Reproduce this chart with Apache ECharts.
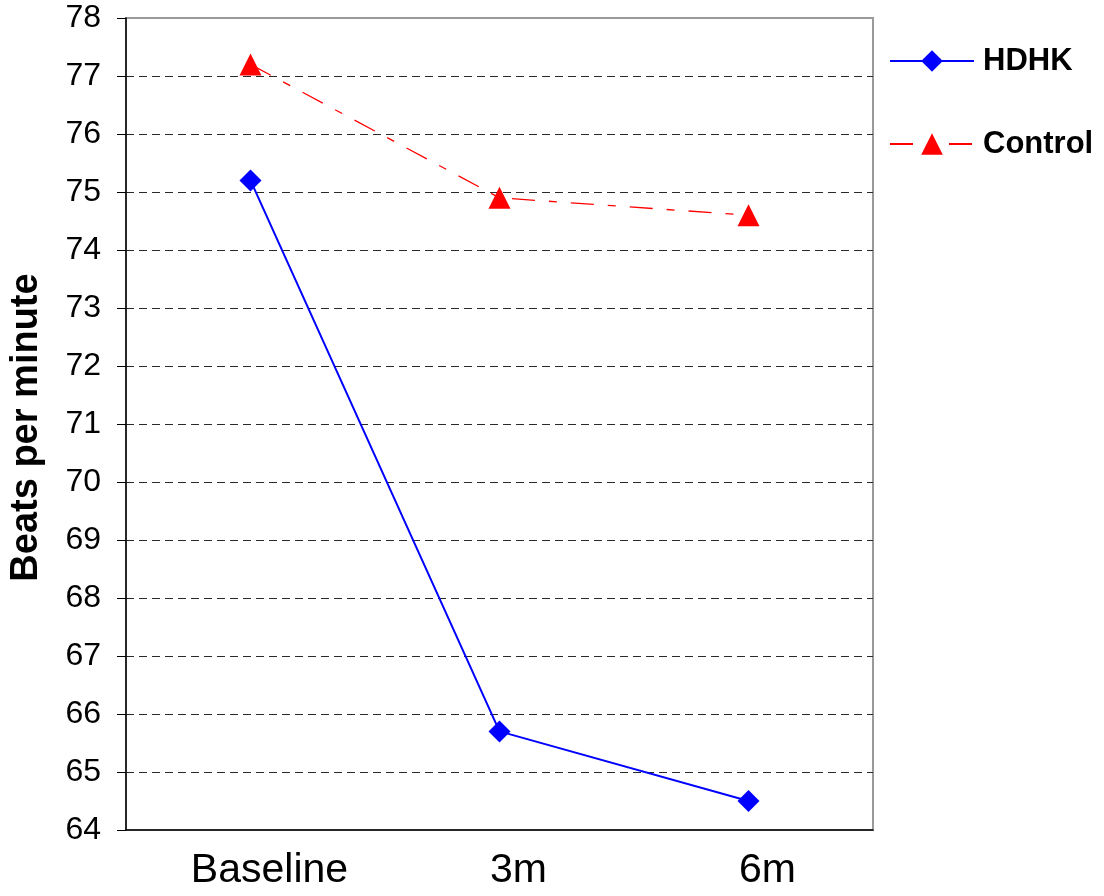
<!DOCTYPE html>
<html>
<head>
<meta charset="utf-8">
<script src="https://cdn.jsdelivr.net/npm/echarts@6/dist/echarts.min.js"></script>
<style>
  html, body { margin: 0; padding: 0; background: #fff; }
  #chart { width: 1104px; height: 896px; }
</style>
</head>
<body>
<div id="chart"></div>
<script>
// Heart rate over follow-up (beats per minute)
const categories = ['Baseline', '3m', '6m'];
const hdhk = [75.2, 65.7, 64.5];
const control = [77.2, 74.9, 74.6];
const yMin = 64;
const yMax = 78;
const yStep = 1;

const FONT = '"Liberation Sans", Arial, sans-serif';

const chart = echarts.init(document.getElementById('chart'), null, { renderer: 'canvas' });

chart.setOption({
  animation: false,
  backgroundColor: '#ffffff',
  grid: {
    left: 126,
    right: 231,
    top: 18,
    bottom: 66,
    show: true,
    borderColor: '#9a9a9a',
    borderWidth: 2,
    backgroundColor: 'transparent'
  },
  legend: {
    orient: 'vertical',
    left: 889,
    top: 45,
    padding: 0,
    itemWidth: 84,
    itemHeight: 27,
    itemGap: 51,
    textStyle: {
      fontFamily: FONT,
      fontSize: 31,
      fontWeight: 'bold',
      color: '#000',
      lineHeight: 32,
      padding: [0, 0, 0, 4]
    },
    data: ['HDHK', 'Control']
  },
  xAxis: {
    type: 'category',
    data: categories,
    boundaryGap: true,
    axisLine: { show: true, lineStyle: { color: '#000', width: 1.5 } },
    axisTick: { show: false },
    axisLabel: {
      fontFamily: FONT,
      fontSize: 41,
      color: '#000',
      margin: 20,
      // category labels sit slightly right of the category centre
      padding: [0, 0, 0, 38]
    },
    splitLine: { show: false }
  },
  yAxis: {
    type: 'value',
    min: yMin,
    max: yMax,
    interval: yStep,
    name: 'Beats per minute',
    nameLocation: 'middle',
    nameRotate: 90,
    nameGap: 80,
    nameTextStyle: {
      fontFamily: FONT,
      fontSize: 38,
      fontWeight: 'bold',
      color: '#000',
      padding: [0, 7, 0, 0]
    },
    axisLine: { show: true, lineStyle: { color: '#000', width: 1.5 } },
    axisTick: { show: true, inside: false, length: 9, lineStyle: { color: '#000', width: 1 } },
    axisLabel: {
      fontFamily: FONT,
      fontSize: 32,
      color: '#000',
      margin: 25
    },
    splitLine: {
      show: true,
      showMinLine: false,
      showMaxLine: false,
      lineStyle: { color: '#2a2a2a', width: 1, type: [8, 5] }
    }
  },
  series: [
    {
      name: 'HDHK',
      type: 'line',
      data: hdhk,
      symbol: 'diamond',
      symbolSize: 22,
      showSymbol: true,
      lineStyle: { color: '#0000ff', width: 2 },
      itemStyle: { color: '#0000ff' }
    },
    {
      name: 'Control',
      type: 'line',
      data: control,
      symbol: 'triangle',
      symbolSize: 22,
      showSymbol: true,
      lineStyle: { color: '#ff0000', width: 1.3, type: [23, 14, 8, 14] },
      itemStyle: { color: '#ff0000' }
    }
  ]
});
</script>
</body>
</html>
